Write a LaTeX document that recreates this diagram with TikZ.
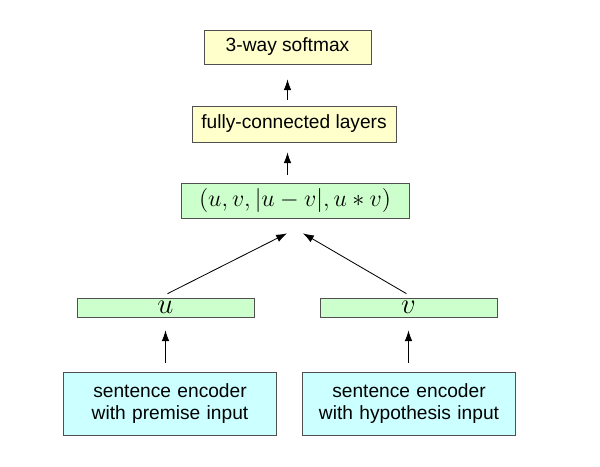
\documentclass[tikz,border=0pt]{standalone}
\usepackage{fontspec}
\setmainfont{Liberation Sans}
\usepackage{amsmath}
\usetikzlibrary{arrows.meta,positioning,calc}
\definecolor{boxline}{RGB}{80,80,80}
\definecolor{fcyellow}{RGB}{255,255,204}
\definecolor{vecgreen}{RGB}{204,255,204}
\definecolor{enccyan}{RGB}{204,255,255}
\tikzset{
  yb/.style={rectangle,draw=boxline,fill=fcyellow,inner sep=0pt,align=center,font=\fontsize{11.5}{13.5}\selectfont},
  gb/.style={rectangle,draw=boxline,fill=vecgreen,inner sep=0pt,align=center,font=\fontsize{14.7}{16}\selectfont},
  cb/.style={rectangle,draw=boxline,fill=enccyan,inner sep=0pt,align=center,text width=128pt,minimum height=37.8pt,font=\fontsize{11.5}{13.4}\selectfont},
  arr/.style={->,>={Latex[length=6.5pt,width=4.6pt]},line width=0.5pt},
}
\begin{document}
\begin{tikzpicture}[x=0.6pt,y=-0.6pt]
  \useasboundingbox (0,0) rectangle (600,466);
  % classifier on top
  \node[yb,minimum width=100pt,minimum height=20.4pt] (sm) at (287.5,47) {3-way softmax};
  \node[yb,minimum width=122.4pt,minimum height=21.6pt] (fc) at (294,124) {fully-connected layers};
  \node[gb,minimum width=136.8pt,minimum height=21pt] (vec) at (295,200.5) {$(u, v, |u-v|, u*v)$};
  % sentence vectors
  \node[gb,minimum width=106.2pt,minimum height=11.4pt,font=\fontsize{18}{18}\selectfont] (u) at (165.5,307.5) {$u$};
  \node[gb,minimum width=106.2pt,minimum height=11.4pt,font=\fontsize{18}{18}\selectfont] (v) at (408.5,307.5) {$v$};
  % encoders
  \node[cb] (encp) at (170,403.5) {sentence encoder\\with premise input};
  \node[cb] (ench) at (409,403.5) {sentence encoder\\with hypothesis input};
  \coordinate (inl) at ($(vec.south)+(-8,15)$);
  \coordinate (inr) at ($(vec.south)+(8,15)$);
  \draw[arr,shorten <=3.6pt,shorten >=9pt] (sm.south |- fc.north) -- (sm.south);
  \draw[arr,shorten <=4.8pt,shorten >=6pt] (sm.south |- vec.north) -- (sm.south |- fc.south);
  \draw[arr] ($(u.north)+(2,-4)$) -- (inl);
  \draw[arr] ($(v.north)+(-2,-4)$) -- (inr);
  \draw[arr,shorten <=5.4pt,shorten >=7.8pt] (u.south |- encp.north) -- (u.south);
  \draw[arr,shorten <=5.4pt,shorten >=7.8pt] (v.south |- ench.north) -- (v.south);
\end{tikzpicture}
\end{document}
